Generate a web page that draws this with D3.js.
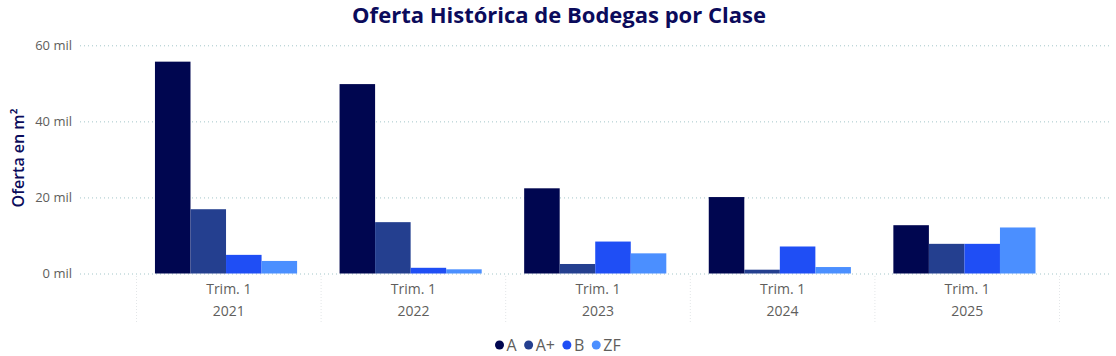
<!DOCTYPE html>
<html><head><meta charset="utf-8">
<script src="https://cdn.jsdelivr.net/npm/d3@7"></script>
<style>body{margin:0;background:#fff}svg{display:block}</style>
</head><body><svg id="c" width="1116" height="356"></svg>
<script>
const years = ["2021","2022","2023","2024","2025"];
const quarterLabels = ["Trim. 1","Trim. 1","Trim. 1","Trim. 1","Trim. 1"];
const series = ["A","A+","B","ZF"];
const valuesA  = [55.7, 49.8, 22.4, 20.1, 12.7];
const valuesAp = [16.9, 13.5, 2.5, 1.0, 7.8];
const valuesB  = [4.9, 1.5, 8.4, 7.1, 7.8];
const valuesZF = [3.3, 1.1, 5.3, 1.7, 12.1];
const yTicks = [0, 20, 40, 60];
const colors = ["#000650", "#243F8F", "#1F4EF5", "#4B8FFF"];

const data = [valuesA, valuesAp, valuesB, valuesZF];
const svg = d3.select("#c");
const font = "'Open Sans', sans-serif";

const y = d3.scaleLinear().domain([0, 60]).range([273.5, 45.3]);
const x = d3.scaleBand().domain(years).range([136.5, 1059.5]).padding(0);
const bw = x.bandwidth();
const xi = d3.scaleBand().domain(series).range([0.1 * bw, 0.87 * bw]).padding(0);

// title
svg.append("text").attr("x", 559).attr("y", 23).attr("text-anchor", "middle")
  .attr("font-family", font).attr("font-weight", 700).attr("font-size", 22)
  .attr("fill", "#0B0B5B").text("Oferta Histórica de Bodegas por Clase");

// grid + y axis
const yAxis = d3.axisLeft(y).tickValues(yTicks).tickSize(-(1110 - 80)).tickPadding(8)
  .tickFormat(d => d + " mil");
const gy = svg.append("g").attr("transform", "translate(80,0)").call(yAxis);
gy.select(".domain").remove();
gy.selectAll(".tick line").attr("stroke", "#A3C6C9").attr("stroke-dasharray", "1,3").attr("stroke-width", 1);
gy.selectAll(".tick text").attr("font-family", font).attr("font-size", 13).attr("fill", "#605E5C");

svg.append("text").attr("transform", "translate(23.5,158) rotate(-90)").attr("text-anchor", "middle")
  .attr("font-family", font).attr("font-weight", 600).attr("font-size", 16).attr("fill", "#0B0B5B").text("Oferta en m²");

// separators
const seps = years.map(d => x(d)).concat([x(years[years.length - 1]) + bw]);
svg.append("g").selectAll("line").data(seps).join("line")
  .attr("x1", d => d).attr("x2", d => d).attr("y1", 276).attr("y2", 324)
  .attr("stroke", "#E3E6E8").attr("stroke-dasharray", "1,2");

// bars
const gBars = svg.append("g");
years.forEach((yr, i) => {
  series.forEach((s, j) => {
    const v = data[j][i];
    gBars.append("rect")
      .attr("x", x(yr) + xi(s)).attr("width", xi.bandwidth())
      .attr("y", y(v)).attr("height", y(0) - y(v))
      .attr("fill", colors[j]);
  });
});

// x labels
const xAxis = svg.append("g");
years.forEach((yr, i) => {
  const cx = x(yr) + bw / 2;
  xAxis.append("text").attr("x", cx).attr("y", 294).attr("text-anchor", "middle")
    .attr("font-family", font).attr("font-size", 14).attr("fill", "#605E5C").text(quarterLabels[i]);
  xAxis.append("text").attr("x", cx).attr("y", 315.5).attr("text-anchor", "middle")
    .attr("font-family", font).attr("font-size", 14).attr("fill", "#605E5C").text(yr);
});

// legend
const lg = svg.append("g");
let lx = 499.5;
series.forEach((s, j) => {
  lg.append("circle").attr("cx", lx).attr("cy", 345).attr("r", 4.5).attr("fill", colors[j]);
  const t = lg.append("text").attr("x", lx + 7).attr("y", 350.5)
    .attr("font-family", font).attr("font-size", 16).attr("fill", "#605E5C").text(s);
  lx += 7 + t.node().getComputedTextLength() + 12;
});
</script></body></html>
